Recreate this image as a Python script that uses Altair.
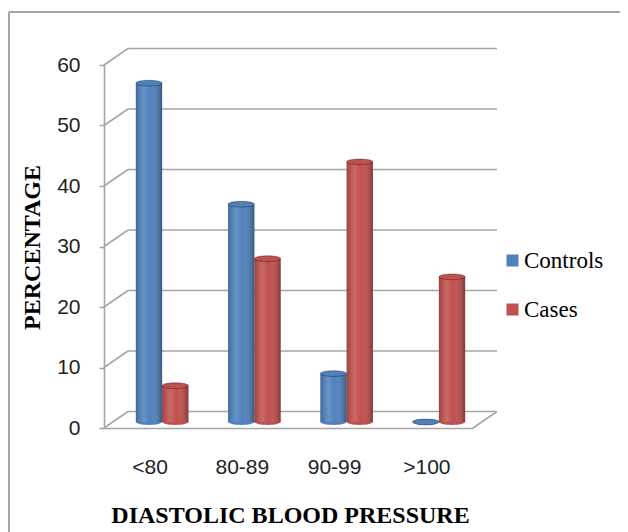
import altair as alt
import pandas as pd

categories = ["<80", "80-89", "90-99", ">100"]
series = ["Controls", "Cases"]
controls = [56, 36, 8, 0]
cases = [6, 27, 43, 24]
ticks = [0, 10, 20, 30, 40, 50, 60]

rows = []
for i, c in enumerate(categories):
    rows.append({"category": c, "series": "Controls", "value": controls[i]})
    rows.append({"category": c, "series": "Cases", "value": cases[i]})
bars = pd.DataFrame(rows)
tick_df = pd.DataFrame({"tick": ticks})
one = pd.DataFrame({"k": [0]})

W, H = 369, 363
DX, DY = 24, -16.5
BX, BY = 12, -6
grid_col = "#A6A6A6"
colors = ["#4F81BD", "#C0504D"]
SERIF = "Liberation Serif, Times New Roman, serif"

xscale = alt.Scale(domain=categories, paddingInner=0.43, paddingOuter=0.215)
yscale = alt.Scale(domain=[0, 60], nice=False, zero=True)
BW = 92.25 * 0.57
oscale = alt.Scale(domain=series, range=[BX, BX + BW], paddingInner=0, paddingOuter=0)
cscale = alt.Scale(domain=series, range=colors)

x_axis = alt.Axis(title="DIASTOLIC BLOOD PRESSURE", labelAngle=0,
                  ticks=False, labelPadding=28, domainColor=grid_col,
                  domainWidth=1.6, labelFont="Liberation Sans",
                  labelFontSize=21, labelColor="#222",
                  titleFont=SERIF, titleFontSize=24,
                  titleFontWeight="bold", titleColor="#000",
                  titleX=186, titleY=94, titleBaseline="alphabetic",
                  titleAlign="center")
y_axis = alt.Axis(title="PERCENTAGE", values=ticks, grid=False,
                  tickSize=5, tickColor=grid_col, tickWidth=1.6,
                  labelPadding=19, domainColor=grid_col, domainWidth=1.6,
                  labelFont="Liberation Sans", labelFontSize=21,
                  labelColor="#222",
                  titleFont=SERIF, titleFontSize=24,
                  titleFontWeight="bold", titleColor="#000",
                  titleX=-72, titleY=182, titleAngle=-90,
                  titleAlign="center", titleBaseline="middle")
legend = alt.Legend(title=None, orient="none", legendX=397,
                    legendY=184, symbolType="square",
                    symbolSize=144, symbolStrokeWidth=0,
                    labelFont=SERIF,
                    labelFontSize=23, labelColor="#000",
                    rowPadding=25, labelOffset=0, padding=0)

X = alt.X("category:N", scale=xscale, axis=x_axis, sort=categories)
OFF = alt.XOffset("series:N", scale=oscale, sort=series)
COL = alt.Color("series:N", scale=cscale, sort=series, legend=legend)

# frame
frame_top = alt.Chart(one).mark_rule(color=grid_col, strokeWidth=2).encode(
    x=alt.value(-95), x2=alt.value(520), y=alt.value(-53))
frame_left = alt.Chart(one).mark_rule(color=grid_col, strokeWidth=2).encode(
    x=alt.value(-95), y=alt.value(-53), y2=alt.value(470))

grid = alt.Chart(tick_df).mark_rule(color=grid_col, strokeWidth=1.6, yOffset=DY).encode(
    x=alt.value(DX), x2=alt.value(W + DX),
    y=alt.Y("tick:Q", scale=yscale, axis=y_axis))
diag = alt.Chart(tick_df).mark_rule(color=grid_col, strokeWidth=1.6, y2Offset=DY).encode(
    x=alt.value(0), x2=alt.value(DX),
    y=alt.Y("tick:Q", scale=yscale, axis=y_axis), y2="tick:Q")
floor_edge = alt.Chart(one).mark_rule(color=grid_col, strokeWidth=1.6).encode(
    x=alt.value(W), x2=alt.value(W + DX), y=alt.value(H), y2=alt.value(H + DY))

ellipse = "M-1,0A1,0.22,0,1,0,1,0A1,0.22,0,1,0,-1,0Z"
bsize = (BW / 2) ** 2

bottoms = alt.Chart(bars).mark_point(
    shape=ellipse, size=bsize, filled=True, opacity=1, yOffset=BY
).encode(
    x=X, xOffset=OFF,
    y=alt.Y("zero:Q", scale=yscale, axis=y_axis),
    color=COL,
).transform_calculate(zero="0")

body = alt.Chart(bars).mark_bar(yOffset=BY, y2Offset=BY).encode(
    x=X, xOffset=OFF,
    y=alt.Y("value:Q", scale=yscale, axis=y_axis),
    color=COL,
)

shade = alt.Chart(bars).mark_bar(
    yOffset=BY, y2Offset=BY,
    color=alt.Gradient(
        gradient="linear", x1=0, x2=1, y1=0, y2=0,
        stops=[alt.GradientStop(color="rgba(0,0,0,0.18)", offset=0),
               alt.GradientStop(color="rgba(255,255,255,0.14)", offset=0.3),
               alt.GradientStop(color="rgba(255,255,255,0.0)", offset=0.55),
               alt.GradientStop(color="rgba(0,0,0,0.32)", offset=1)])
).encode(
    x=X, xOffset=OFF,
    y=alt.Y("value:Q", scale=yscale, axis=y_axis),
)

tops = alt.Chart(bars).mark_point(
    shape=ellipse, size=bsize, filled=True, opacity=1, yOffset=BY,
    stroke="#000000", strokeOpacity=0.3, strokeWidth=1
).encode(
    x=X, xOffset=OFF,
    y=alt.Y("value:Q", scale=yscale, axis=y_axis),
    color=COL,
)

chart = alt.layer(
    frame_top, frame_left, grid, diag, floor_edge, bottoms, body, shade, tops
).properties(
    width=W, height=H,
    autosize=alt.AutoSizeParams(type="none"),
    padding={"left": 96, "top": 57, "right": 147, "bottom": 104},
    background="white",
).configure(font=SERIF).configure_view(stroke=None)

chart.save("out.html", embed_options={"renderer": "svg", "actions": False})
